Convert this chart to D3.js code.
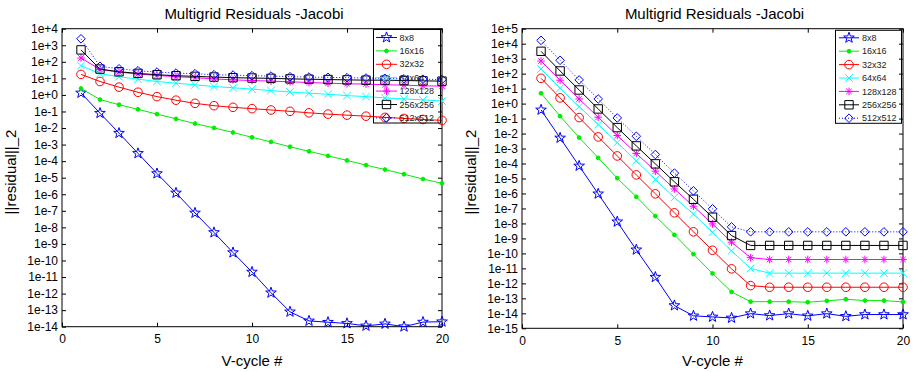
<!DOCTYPE html>
<html><head><meta charset="utf-8">
<script src="https://cdn.jsdelivr.net/npm/d3@7"></script>
<style>body{margin:0;background:#fff}svg{display:block}</style>
</head><body><svg id="c" width="915" height="372"></svg>
<script>
// ---------- data ----------
const cycles = d3.range(1, 21);
const seriesNames = ["8x8","16x16","32x32","64x64","128x128","256x256","512x512"];
const titleText = "Multigrid Residuals -Jacobi";
const xLabel = "V-cycle #";
const yLabel = "||residual||_2";
const xTicks = [0, 5, 10, 15, 20];

// Left panel
const left8   = [1.32,7.9e-2,4.9e-3,2.95e-4,1.78e-5,1.2e-6,7.4e-8,4.9e-9,3.0e-10,2.0e-11,1.12e-12,7.9e-14,2.24e-14,1.86e-14,1.58e-14,1.12e-14,1.48e-14,1.0e-14,1.9e-14,2.0e-14];
const left16  = [2.45,0.525,0.257,0.135,6.9e-2,3.6e-2,1.86e-2,1.02e-2,5.4e-3,2.75e-3,1.45e-3,7.4e-4,3.9e-4,2.1e-4,1.1e-4,5.75e-5,3.1e-5,1.62e-5,8.3e-6,4.6e-6];
const left32  = [17.4,6.5,2.95,1.45,0.79,0.48,0.31,0.224,0.178,0.148,0.123,0.102,0.083,0.069,0.060,0.052,0.044,0.038,0.033,0.029];
const left64  = [58.9,19.1,12.6,8.9,6.5,5.1,4.1,3.2,2.7,2.24,1.82,1.51,1.26,1.10,0.91,0.79,0.66,0.575,0.50,0.43];
const left128 = [170,34.7,24,18.2,15.1,12.6,11,9.3,8.1,7.4,6.8,6.2,5.6,5.1,4.7,4.5,4.1,3.9,3.55,3.4];
const left256 = [525,36.3,25.1,20,16.6,14.5,13.2,12,11,10.5,10,9.3,8.9,8.5,8.1,7.8,7.8,7.4,7.1,6.8];
const left512 = [2450,53.7,38,28.8,24,20.9,19.1,16.6,15.8,14.5,13.8,12.6,12,11.5,11,10.5,10,9.3,8.9,8.5];

// Right panel
const right8   = [0.38,5.1e-3,6.9e-5,9.5e-7,1.29e-8,1.74e-10,2.6e-12,3.3e-14,6.8e-15,5.75e-15,4.9e-15,9.5e-15,7.1e-15,9.5e-15,6.8e-15,9.5e-15,6.3e-15,8.3e-15,8.3e-15,8.3e-15];
const right16  = [4.9,0.145,5.4e-3,2.4e-4,1.05e-5,6.0e-7,3.1e-8,1.74e-9,8.9e-11,4.6e-12,2.7e-13,6.0e-14,6.0e-14,6.0e-14,5.5e-14,6.8e-14,8.7e-14,7.1e-14,7.1e-14,5.75e-14];
const right32  = [49,2.4,0.117,6.0e-3,3.2e-4,1.74e-5,9.5e-7,5.1e-8,2.75e-9,1.62e-10,9.3e-12,7.1e-13,5.5e-13,5.5e-13,5.5e-13,5.5e-13,5.5e-13,5.5e-13,5.5e-13,5.5e-13];
const right64  = [204,10.5,0.63,0.04,2.5e-3,1.5e-4,8.5e-6,5.4e-7,4.2e-8,2.6e-9,1.48e-10,9.8e-12,4.8e-12,4.8e-12,4.8e-12,4.8e-12,4.8e-12,4.8e-12,4.8e-12,4.8e-12];
const right128 = [692,36.3,2.04,0.123,7.4e-3,4.7e-4,3.1e-5,2.0e-6,1.41e-7,9.3e-9,5.6e-10,5.2e-11,3.9e-11,3.9e-11,3.9e-11,3.9e-11,3.9e-11,3.9e-11,3.9e-11,3.9e-11];
const right256 = [3090,151,8.1,0.44,0.025,1.5e-3,9.5e-5,6.0e-6,4.1e-7,2.6e-8,1.55e-9,3.4e-10,3.4e-10,3.4e-10,3.4e-10,3.4e-10,3.4e-10,3.4e-10,3.4e-10,3.4e-10];
const right512 = [16600,776,38,2.04,0.11,6.6e-3,4.0e-4,2.3e-5,1.5e-6,9.5e-8,5.9e-9,2.75e-9,2.75e-9,2.75e-9,2.75e-9,2.75e-9,2.75e-9,2.75e-9,2.75e-9,2.75e-9];

const leftExp  = d3.range(-14, 5);   // y tick exponents
const rightExp = d3.range(-15, 6);

// ---------- styles ----------
const styles = [
  {color:"#0000ff", marker:"star",    dash:null},
  {color:"#00ee00", marker:"dot",     dash:null},
  {color:"#ff0000", marker:"circle",  dash:null},
  {color:"#00ffff", marker:"x",       dash:null},
  {color:"#ff00ff", marker:"asterisk",dash:null},
  {color:"#000000", marker:"square",  dash:null},
  {color:"#0000ff", marker:"diamond", dash:"1,2"}
];
const FONT = "'Liberation Sans', Arial, Helvetica, sans-serif";

function markerPath(type) {
  const p = d3.path();
  if (type === "star") {
    const R = 5.6, r = R * 0.40;
    for (let i = 0; i < 10; i++) {
      const a = -Math.PI / 2 + i * Math.PI / 5;
      const rr = i % 2 ? r : R;
      if (i === 0) p.moveTo(rr * Math.cos(a), rr * Math.sin(a));
      else p.lineTo(rr * Math.cos(a), rr * Math.sin(a));
    }
    p.closePath();
  } else if (type === "circle") {
    p.arc(0, 0, 4.3, 0, 2 * Math.PI);
  } else if (type === "dot") {
    p.arc(0, 0, 1.9, 0, 2 * Math.PI);
  } else if (type === "x") {
    const s = 3.8;
    p.moveTo(-s, -s); p.lineTo(s, s); p.moveTo(-s, s); p.lineTo(s, -s);
  } else if (type === "asterisk") {
    const s = 3.8, d = s * 0.72;
    p.moveTo(-s, 0); p.lineTo(s, 0); p.moveTo(0, -s); p.lineTo(0, s);
    p.moveTo(-d, -d); p.lineTo(d, d); p.moveTo(-d, d); p.lineTo(d, -d);
  } else if (type === "square") {
    p.rect(-4.2, -4.2, 8.4, 8.4);
  } else if (type === "diamond") {
    const s = 4.3;
    p.moveTo(0, -s); p.lineTo(s, 0); p.lineTo(0, s); p.lineTo(-s, 0); p.closePath();
  }
  return p.toString();
}
function markerFill(st) { return st.marker === "dot" ? st.color : "none"; }

const fmtExp = e => (e >= 0 ? "1e+" + e : "1e" + e);

const svg = d3.select("#c");
svg.append("rect").attr("width", 915).attr("height", 372).attr("fill", "#fff");

const panels = [
  {x0:62,  x1:442, yT:28.7, yB:326.7, exps:leftExp,  data:[left8,left16,left32,left64,left128,left256,left512],
   leg:{x0:373.5, x1:440.5, y0:29.5, y1:123, rowY:37.5, step:13.4, lx0:376, lx1:397, tx:399.5}, ylabX:16},
  {x0:522, x1:903, yT:28.7, yB:328.3, exps:rightExp, data:[right8,right16,right32,right64,right128,right256,right512],
   leg:{x0:835.5, x1:901.5, y0:30.3, y1:123.3, rowY:37.8, step:13.4, lx0:839, lx1:859, tx:862}, ylabX:476}
];

panels.forEach(P => {
  const x = d3.scaleLinear().domain([0, 20]).range([P.x0, P.x1]);
  const y = d3.scaleLog().domain([Math.pow(10, P.exps[0]), Math.pow(10, P.exps[P.exps.length - 1])]).range([P.yB, P.yT]);
  const yTickVals = P.exps.map(e => Math.pow(10, e));
  const g = svg.append("g");

  // axes
  const ax = (sel) => sel.call(s => s.select(".domain").remove())
     .call(s => s.selectAll("line").attr("stroke", "#000"))
     .call(s => s.selectAll("text").attr("font-family", FONT).attr("font-size", 12).attr("fill", "#000"));

  g.append("g").attr("transform", `translate(0,${P.yB})`)
    .call(d3.axisBottom(x).tickValues(xTicks).tickSize(-4).tickPadding(8).tickFormat(d3.format("d"))).call(ax);
  g.append("g").attr("transform", `translate(0,${P.yT})`)
    .call(d3.axisTop(x).tickValues(xTicks).tickSize(-4).tickFormat("")).call(ax);
  g.append("g").attr("transform", `translate(${P.x0},0)`)
    .call(d3.axisLeft(y).tickValues(yTickVals).tickSize(-4).tickPadding(4)
      .tickFormat(v => fmtExp(Math.round(Math.log10(v))))).call(ax);
  g.append("g").attr("transform", `translate(${P.x1},0)`)
    .call(d3.axisRight(y).tickValues(yTickVals).tickSize(-4).tickFormat("")).call(ax);

  g.append("rect").attr("x", P.x0).attr("y", P.yT).attr("width", P.x1 - P.x0).attr("height", P.yB - P.yT)
    .attr("fill", "none").attr("stroke", "#000").attr("stroke-width", 1);

  // series
  const line = d3.line().x((d, i) => x(cycles[i])).y(d => y(d));
  P.data.forEach((vals, si) => {
    const st = styles[si];
    g.append("path").attr("d", line(vals)).attr("fill", "none").attr("stroke", st.color)
      .attr("stroke-width", 1).attr("stroke-dasharray", st.dash);
    g.selectAll(null).data(vals).enter().append("path")
      .attr("transform", (d, i) => `translate(${x(cycles[i])},${y(d)})`)
      .attr("d", markerPath(st.marker)).attr("fill", markerFill(st))
      .attr("stroke", st.color).attr("stroke-width", 1);
  });

  // legend
  const L = P.leg;
  g.append("rect").attr("x", L.x0).attr("y", L.y0).attr("width", L.x1 - L.x0).attr("height", L.y1 - L.y0)
    .attr("fill", "none").attr("stroke", "#000").attr("stroke-width", 1);
  seriesNames.forEach((nm, si) => {
    const st = styles[si];
    const yy = L.rowY + si * L.step;
    g.append("line").attr("x1", L.lx0).attr("x2", L.lx1).attr("y1", yy).attr("y2", yy)
      .attr("stroke", st.color).attr("stroke-width", 1).attr("stroke-dasharray", st.dash);
    g.append("path").attr("transform", `translate(${(L.lx0 + L.lx1) / 2},${yy})`)
      .attr("d", markerPath(st.marker)).attr("fill", markerFill(st)).attr("stroke", st.color);
    g.append("text").attr("x", L.tx).attr("y", yy).attr("dy", "0.35em")
      .attr("font-family", FONT).attr("font-size", 9).attr("fill", "#222").text(nm);
  });

  // titles / labels
  g.append("text").attr("x", (P.x0 + P.x1) / 2 + 2).attr("y", 19).attr("text-anchor", "middle")
    .attr("font-family", FONT).attr("font-size", 15).text(titleText);
  g.append("text").attr("x", (P.x0 + P.x1) / 2).attr("y", 366).attr("text-anchor", "middle")
    .attr("font-family", FONT).attr("font-size", 15).text(xLabel);
  g.append("text").attr("transform", `translate(${P.ylabX},172) rotate(-90)`).attr("text-anchor", "middle")
    .attr("font-family", FONT).attr("font-size", 15).text(yLabel);
});
</script>
</body></html>
